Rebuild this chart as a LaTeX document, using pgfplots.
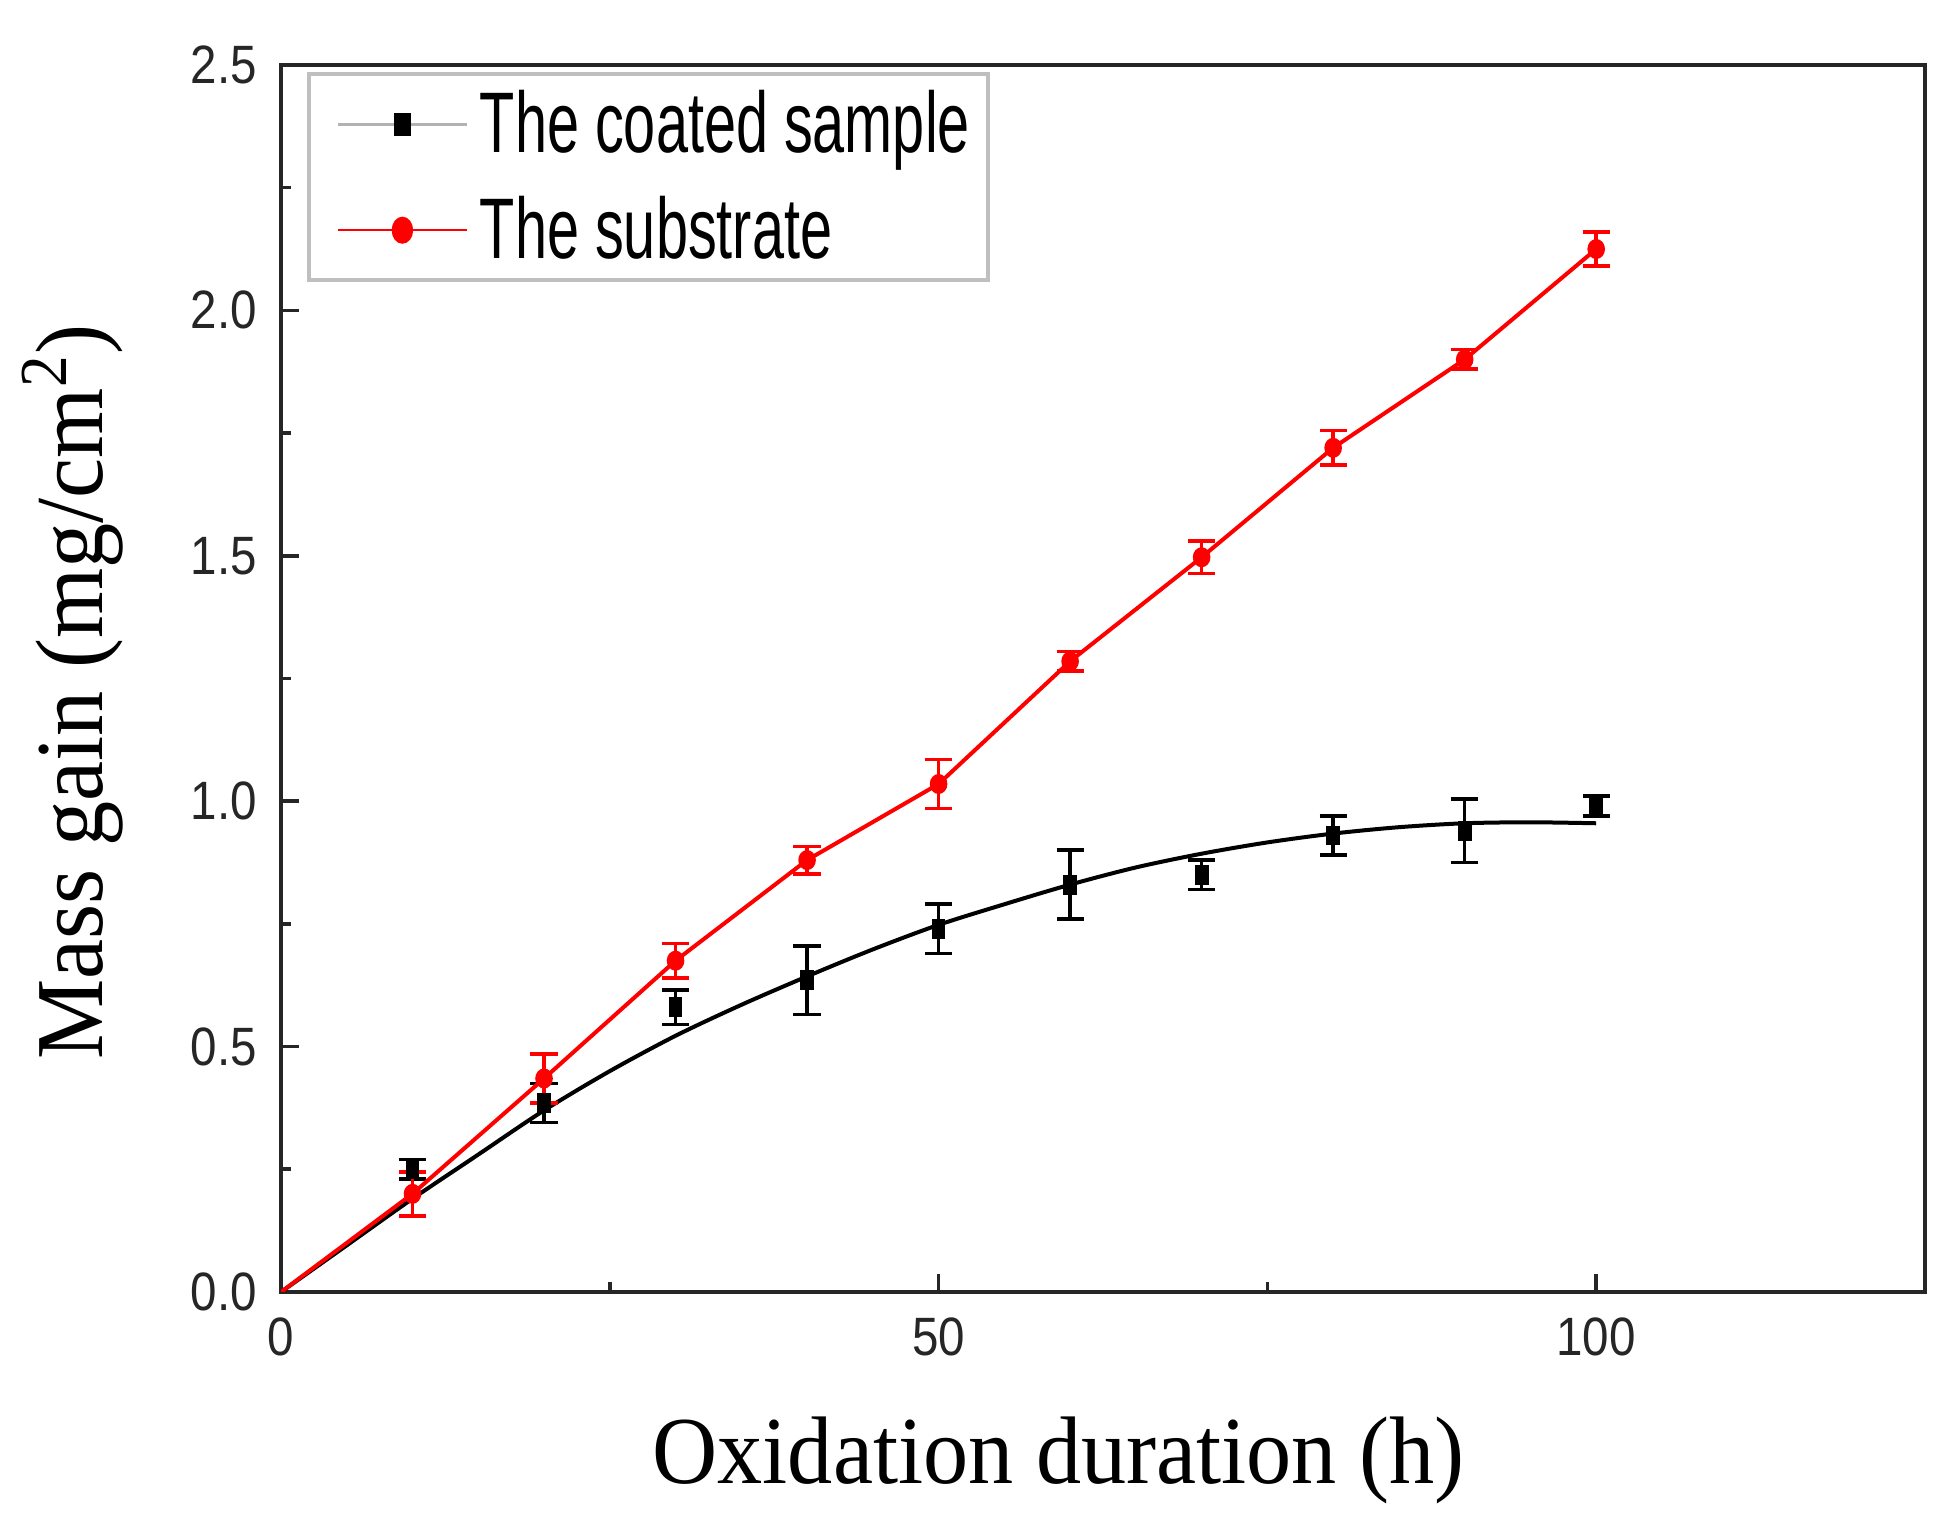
\documentclass[border=0pt]{standalone}
\usepackage{fontspec}
\usepackage{pgfplots}
\pgfplotsset{compat=1.18}
\newfontfamily\ticksf{Liberation Sans}[FakeStretch=0.88]
\newfontfamily\legsf{Liberation Sans}[FakeStretch=0.67]
\newfontfamily\labrm{Liberation Serif}[FakeStretch=0.94]
\setmainfont{Liberation Serif}
\begin{document}
\begin{tikzpicture}
\begin{axis}[
  name=ax,
  scale only axis,
  width=411pt, height=306.75pt,
  xmin=0, xmax=125, ymin=0, ymax=2.5,
  axis line style={black!85, line width=1pt},
  xtick={0,50,100}, minor xtick={25,75},
  ytick={0,0.5,1,1.5,2,2.5}, minor ytick={0.25,0.75,1.25,1.75,2.25},
  tick align=inside, xtick pos=bottom, ytick pos=left,
  major tick length=4.5pt, minor tick length=2.5pt,
  tick style={black!85, line width=0.9pt},
  /pgf/number format/assume math mode=true,
  ticklabel style={font=\ticksf\fontsize{13.5}{15}\selectfont, text=black!85},
  yticklabel style={/pgf/number format/fixed, /pgf/number format/fixed zerofill, /pgf/number format/precision=1, xshift=-2.5pt},
  xticklabel style={yshift=-3pt},
  xlabel={Oxidation duration (h)},
  ylabel={Mass gain (mg/cm\textsuperscript{2})},
  label style={font=\labrm\fontsize{24}{28}\selectfont},
  xlabel style={at={(axis description cs:0.473,-0.137)}, anchor=center},
  ylabel style={at={(axis description cs:-0.127,0.489)}, anchor=center},
  legend cell align=left,
  legend image code/.code={\path (-5.5pt,0pt); \draw[mark repeat=2,mark phase=2,#1] plot coordinates {(0cm,0cm) (0.565cm,0cm) (1.13cm,0cm)};},
  legend style={at={(0.016,0.994)}, anchor=north west, draw=black!25, line width=1pt, fill=white,
    font=\legsf\fontsize{21.5}{25}\selectfont, inner xsep=1.4pt, inner ysep=1.75pt, row sep=5pt,
    nodes={inner xsep=3pt, inner ysep=2.2pt}},
]
\addlegendimage{black!30, line width=0.6pt, mark=square*, mark options={black, solid, line width=0.4pt, xscale=0.75, yscale=1.1}, mark size=2.5pt}
\addlegendentry{The coated sample}
\addlegendimage{red, line width=0.6pt, mark=*, mark options={red, solid, xscale=0.85, yscale=1.1}, mark size=2.8pt}
\addlegendentry{The substrate}

% fitted curve for the coated sample
\addplot[black, line width=1pt, smooth, forget plot] coordinates {
 (0,0) (5,0.095) (10,0.19) (15,0.28) (20,0.37) (25,0.45) (30,0.522) (35,0.585)
 (40,0.643) (45,0.698) (50,0.748) (55,0.79) (60,0.83) (65,0.865) (70,0.893)
 (75,0.916) (80,0.934) (85,0.947) (90,0.955) (95,0.957) (100,0.955)};

% coated sample data with error bars
\addplot[black, only marks, mark=square*, mark size=1.9pt, mark options={xscale=0.8,yscale=1.2},
  error bars/.cd, y dir=both, y explicit,
  error bar style={black, line width=0.9pt},
  error mark options={rotate=90, black, line width=0.9pt, mark size=3.4pt}] coordinates {
 (10,0.25) +- (0,0.02)
 (20,0.385) +- (0,0.04)
 (30,0.58) +- (0,0.035)
 (40,0.635) +- (0,0.07)
 (50,0.74) +- (0,0.05)
 (60,0.83) +- (0,0.07)
 (70,0.85) +- (0,0.03)
 (80,0.93) +- (0,0.04)
 (90,0.94) +- (0,0.065)
 (100,0.99) +- (0,0.02)};

% substrate line
\addplot[red, line width=1pt, forget plot] coordinates {
 (0,0) (10,0.20) (20,0.435) (30,0.675) (40,0.88) (50,1.035) (60,1.285) (70,1.497) (80,1.72) (90,1.90) (100,2.125)};

% substrate data with error bars
\addplot[red, only marks, mark=*, mark size=2pt, mark options={yscale=1.15},
  error bars/.cd, y dir=both, y explicit,
  error bar style={red, line width=0.9pt},
  error mark options={rotate=90, red, line width=0.9pt, mark size=3.4pt}] coordinates {
 (10,0.20) +- (0,0.045)
 (20,0.435) +- (0,0.05)
 (30,0.675) +- (0,0.035)
 (40,0.88) +- (0,0.028)
 (50,1.035) +- (0,0.05)
 (60,1.285) +- (0,0.02)
 (70,1.497) +- (0,0.033)
 (80,1.72) +- (0,0.035)
 (90,1.90) +- (0,0.02)
 (100,2.125) +- (0,0.035)};
\end{axis}
\path (-70.25pt,-59pt) rectangle (417.5pt,323pt);
\end{tikzpicture}
\end{document}
